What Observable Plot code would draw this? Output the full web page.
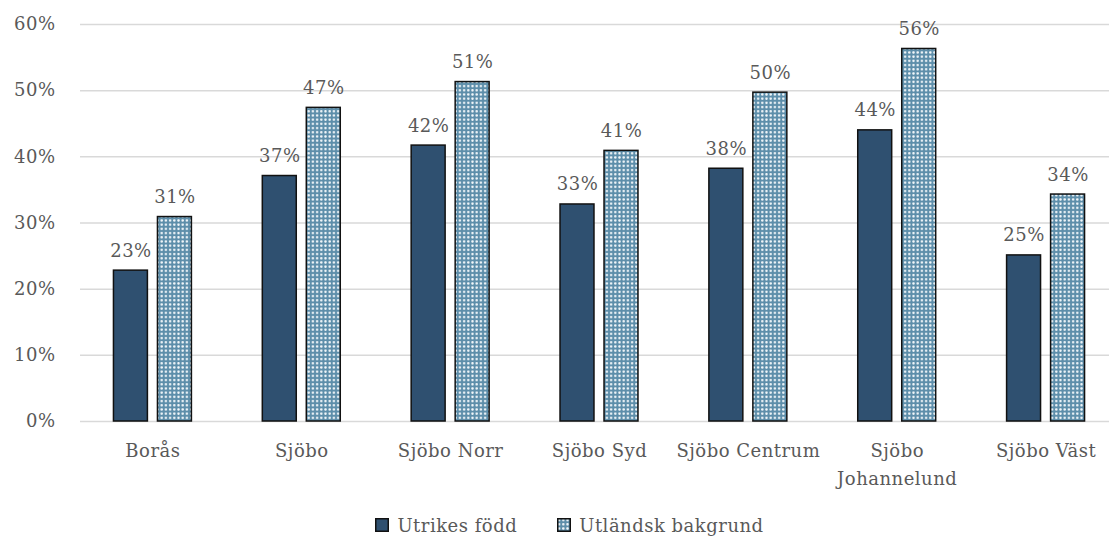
<!DOCTYPE html>
<html>
<head>
<meta charset="utf-8">
<script src="https://cdn.jsdelivr.net/npm/d3@7"></script>
<script src="https://cdn.jsdelivr.net/npm/@observablehq/plot@0.6"></script>
<style>
  html, body { margin: 0; padding: 0; background: #fff; }
  #chart { width: 1109px; }
  .legend { display: flex; justify-content: center; align-items: center; gap: 40px;
    font-family: "DejaVu Serif", serif; font-size: 18px; color: #595959; letter-spacing: 0.5px;
    height: 38px; padding-top: 6px; margin-left: 30px; }
  .legend .item { display: flex; align-items: center; gap: 8px; }
  .legend svg { display: block; }
</style>
</head>
<body>
<div id="chart"></div>
<script>
const categories = ["Borås", "Sjöbo", "Sjöbo Norr", "Sjöbo Syd", "Sjöbo Centrum", "Sjöbo\nJohannelund", "Sjöbo Väst"];
const utrikesFodd = [22.8, 37.1, 41.7, 32.8, 38.2, 44.0, 25.1];
const utlandskBakgrund = [30.9, 47.4, 51.3, 40.9, 49.7, 56.3, 34.3];
const yTicks = [0, 10, 20, 30, 40, 50, 60];
const seriesNames = ["Utrikes född", "Utländsk bakgrund"];

const darkFill = "#2f5070";
const patternBase = "#5d8eaa";

const rows1 = categories.map((c, i) => ({cat: c, v: utrikesFodd[i]}));
const rows2 = categories.map((c, i) => ({cat: c, v: utlandskBakgrund[i]}));

const bandHalf = 74.45;
const font = "DejaVu Serif, serif";

const chart = Plot.plot({
  width: 1109,
  height: 500,
  marginTop: 24,
  marginBottom: 79,
  marginLeft: 80,
  marginRight: 0,
  style: {fontFamily: font, fontSize: "18px", color: "#595959", background: "#fff", letterSpacing: "0.5px"},
  x: {domain: categories, range: [78, 1120], padding: 0, round: false, axis: null},
  y: {domain: [0, 60], axis: null},
  marks: [
    Plot.ruleY(yTicks, {y: d => d, stroke: "#d9d9d9", strokeWidth: 1.5}),
    Plot.axisY({ticks: yTicks, tickSize: 0, tickPadding: 25, tickFormat: d => d + "%", fontSize: 18, fill: "#595959", label: null}),
    Plot.barY(rows1, {x: "cat", y: "v", fill: darkFill, stroke: "#111", strokeWidth: 1.5,
      insetLeft: bandHalf - 39, insetRight: bandHalf + 5}),
    Plot.barY(rows2, {x: "cat", y: "v", fill: "url(#dots)", stroke: "#111", strokeWidth: 1.5,
      insetLeft: bandHalf + 5, insetRight: bandHalf - 39}),
    Plot.text(rows1, {x: "cat", y: "v", text: d => Math.round(d.v) + "%", dx: -22, dy: -14, lineAnchor: "bottom", fill: "#595959", fontSize: 18}),
    Plot.text(rows2, {x: "cat", y: "v", text: d => Math.round(d.v) + "%", dx: 22, dy: -14, lineAnchor: "bottom", fill: "#595959", fontSize: 18}),
    Plot.axisX({tickSize: 0, tickPadding: 16, lineHeight: 1.55, fontSize: 18, fill: "#595959", label: null})
  ]
});

const svg = d3.select(chart);
const defs = svg.insert("defs", ":first-child");
const pat = defs.append("pattern").attr("id", "dots").attr("patternUnits", "userSpaceOnUse")
  .attr("width", 4.2).attr("height", 4.2);
pat.append("rect").attr("width", 4.2).attr("height", 4.2).attr("fill", patternBase);
pat.append("circle").attr("cx", 2.1).attr("cy", 2.1).attr("r", 1.25).attr("fill", "#f2f7fa");

document.getElementById("chart").appendChild(chart);

// legend
const legend = document.createElement("div");
legend.className = "legend";
seriesNames.forEach((name, i) => {
  const item = document.createElement("div");
  item.className = "item";
  const sw = d3.create("svg").attr("width", 14).attr("height", 14);
  if (i === 1) {
    const d2 = sw.append("defs").append("pattern").attr("id", "dotsL").attr("patternUnits", "userSpaceOnUse")
      .attr("width", 4.2).attr("height", 4.2);
    d2.append("rect").attr("width", 4.2).attr("height", 4.2).attr("fill", patternBase);
    d2.append("circle").attr("cx", 2.1).attr("cy", 2.1).attr("r", 1.25).attr("fill", "#f2f7fa");
  }
  sw.append("rect").attr("x", 0.75).attr("y", 0.75).attr("width", 12.5).attr("height", 12.5)
    .attr("fill", i === 0 ? darkFill : "url(#dotsL)").attr("stroke", "#111").attr("stroke-width", 1.5);
  item.appendChild(sw.node());
  const t = document.createElement("span");
  t.textContent = name;
  item.appendChild(t);
  legend.appendChild(item);
});
document.body.appendChild(legend);
</script>
</body>
</html>
